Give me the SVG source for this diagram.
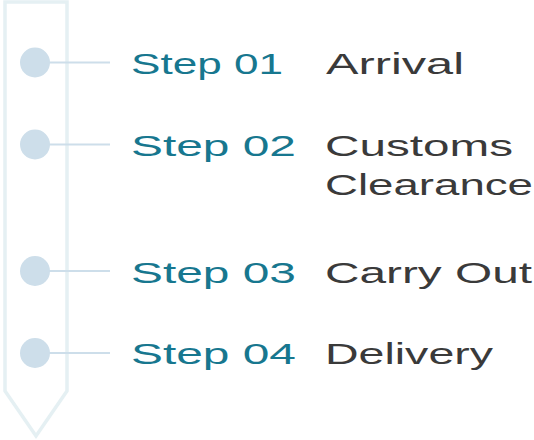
<svg xmlns="http://www.w3.org/2000/svg" width="534" height="440" viewBox="0 0 534 440">
<style>
.frame{fill:none;stroke:#e5f0f3;stroke-width:3.5;stroke-linejoin:miter}
.dot{fill:#cddeea}
.link{stroke:#cddeea;stroke-width:2.2}
.step{font-family:"Liberation Sans",Arial,sans-serif;font-size:29px;fill:#17778f}
.label{font-family:"Liberation Sans",Arial,sans-serif;font-size:29px;fill:#3a3a3a}
</style>
<rect width="534" height="440" fill="#ffffff"/>
<path class="frame" d="M5,2 H67 V391 L36,436 L5,391 Z"/>
<g id="connectors">
<line class="link" x1="35" y1="62.5" x2="110" y2="62.5"/>
<line class="link" x1="35" y1="144.5" x2="110" y2="144.5"/>
<line class="link" x1="35" y1="271" x2="110" y2="271"/>
<line class="link" x1="35" y1="353" x2="110" y2="353"/>
</g>
<g id="step1">
<circle class="dot" cx="35" cy="62.5" r="15"/>
<text class="step" x="131" y="74" textLength="152" lengthAdjust="spacingAndGlyphs">Step 01</text>
<text class="label" x="326" y="74" textLength="138" lengthAdjust="spacingAndGlyphs">Arrival</text>
</g>
<g id="step2">
<circle class="dot" cx="35" cy="144.5" r="15"/>
<text class="step" x="131" y="155.5" textLength="165" lengthAdjust="spacingAndGlyphs">Step 02</text>
<text class="label" x="325" y="155.5" textLength="188" lengthAdjust="spacingAndGlyphs">Customs</text>
<text class="label" x="325" y="194.5" textLength="208" lengthAdjust="spacingAndGlyphs">Clearance</text>
</g>
<g id="step3">
<circle class="dot" cx="35" cy="271" r="15"/>
<text class="step" x="131" y="282.5" textLength="165" lengthAdjust="spacingAndGlyphs">Step 03</text>
<text class="label" x="325" y="282.5" textLength="207" lengthAdjust="spacingAndGlyphs">Carry Out</text>
</g>
<g id="step4">
<circle class="dot" cx="35" cy="353" r="15"/>
<text class="step" x="131" y="364" textLength="165" lengthAdjust="spacingAndGlyphs">Step 04</text>
<text class="label" x="325" y="364" textLength="168" lengthAdjust="spacingAndGlyphs">Delivery</text>
</g>
</svg>
